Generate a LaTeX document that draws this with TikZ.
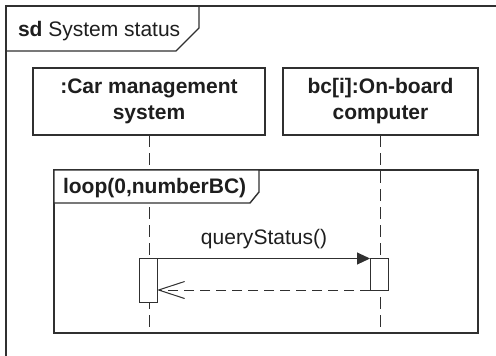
\documentclass[tikz,border=0pt]{standalone}
\usepackage{fontspec}
\setmainfont{Liberation Sans}
\usetikzlibrary{arrows.meta}
\definecolor{ln}{HTML}{303030}
\definecolor{tx}{HTML}{1E1E1E}
\begin{document}
\begin{tikzpicture}[x=1bp,y=-1bp,
  every node/.style={font=\fontsize{21bp}{23bp}\selectfont, text=tx, inner sep=0pt, outer sep=0pt},
  frame/.style={draw=ln, line width=1.4bp},
  lifebox/.style={draw=ln, line width=1.2bp, fill=white, minimum height=67bp, align=center, font=\bfseries\fontsize{21bp}{26bp}\selectfont},
  lifeline/.style={draw=ln, line width=1bp, dash pattern=on 12bp off 6bp},
  act/.style={draw=ln, line width=1bp, fill=white, minimum width=18bp},
  msg/.style={draw=ln, line width=1bp, -{Triangle[length=13bp,width=12bp]}},
  reply/.style={draw=ln, line width=1bp, dash pattern=on 10bp off 6bp, -{Straight Barb[length=26bp,width=17bp]}}
]
\useasboundingbox (0,0) rectangle (496,355);
\fill[white] (0,0) rectangle (496,355);

% outer frame
\draw[frame] (6,360) -- (6,6) -- (500,6);
\draw[frame] (6,51) -- (176,51) -- (199,28) -- (199,6);
\node[anchor=base west] (sdlabel) at (18,36) {\textbf{sd} System status};

% lifeline heads
\node[lifebox, minimum width=232bp] (car) at (149,101.5) {:Car management\\system};
\node[lifebox, minimum width=195bp] (bc) at (380.5,101.5) {bc[i]:On-board\\computer};

% lifelines
\coordinate (end1) at (149,333);
\coordinate (end2) at (380.5,333);
\draw[lifeline] (car.south) -- (end1);
\draw[lifeline] (bc.south) -- (end2);

% loop fragment
\draw[frame] (54,170) rectangle (478,333);
\draw[frame, fill=white] (54,170) -- (259,170) -- (259,192) -- (250,203) -- (54,203) -- cycle;
\node[anchor=base west, font=\bfseries\fontsize{21bp}{23bp}\selectfont] (looplabel) at (63,193) {loop(0,numberBC)};

% activations
\node[act, minimum height=43.5bp] (a1) at (148,280.25) {};
\node[act, minimum height=31.5bp] (a2) at (379,274.25) {};

% messages
\draw[msg] (a1.north east) -- (a1.north east -| a2.west);
\node[anchor=base] (qs) at (264,244) {queryStatus()};
\draw[reply] (a2.south west) -- (a2.south west -| a1.east);
\end{tikzpicture}
\end{document}
